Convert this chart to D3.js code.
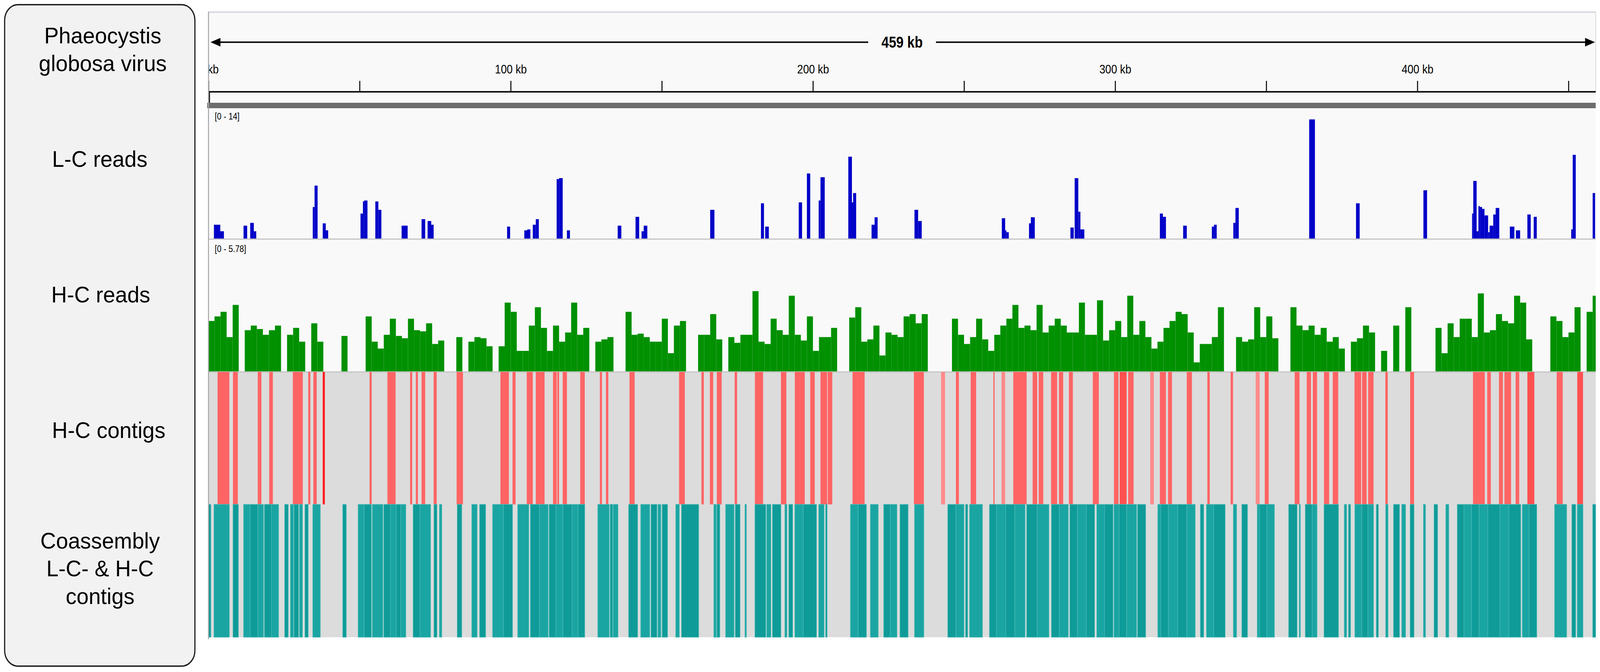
<!DOCTYPE html>
<html>
<head>
<meta charset="utf-8">
<script src="https://cdn.jsdelivr.net/npm/d3@7"></script>
<style>
  html, body { margin: 0; padding: 0; background: #fff; overflow: hidden; }
  #chart { width: 100vw; height: 100vh; }
  svg { display: block; width: 100%; height: 100%; }
  svg text { font-family: "Liberation Sans", Arial, sans-serif; }
</style>
</head>
<body>
<div id="chart"></div>
<script>
// genome size and ruler
const genomeKb = 459;
const rulerTicks = [0, 50, 100, 150, 200, 250, 300, 350, 400, 450];

// track names shown in the left panel
const trackNames = [
  ["Phaeocystis", "globosa virus"],
  ["L-C reads"],
  ["H-C reads"],
  ["H-C contigs"],
  ["Coassembly", "L-C- & H-C", "contigs"]
];

// data ranges of the two coverage tracks
const lcRange = [0, 14];
const hcRange = [0, 5.78];

// L-C reads coverage: [start kb, end kb, value]
const lcReads = [
  [1.8, 3.9, 1.5], [3.9, 5.1, 0.8], [11.6, 12.8, 1.4], [13.8, 15.0, 1.7], [15.0, 15.8, 0.8],
  [34.5, 35.1, 3.4], [35.1, 36.1, 5.7], [37.8, 38.8, 1.65], [38.8, 39.6, 0.9],
  [50.3, 51.1, 2.7], [51.1, 51.5, 4.0], [51.5, 52.6, 4.1], [55.2, 56.2, 4.0], [56.2, 57.2, 3.1],
  [63.9, 65.9, 1.4], [70.5, 71.7, 2.1], [72.5, 73.7, 1.9], [73.7, 74.5, 1.5],
  [98.8, 99.8, 1.3], [104.5, 105.5, 0.9], [105.5, 106.5, 1.0], [107.3, 108.3, 1.5], [108.3, 109.3, 2.1],
  [115.2, 116.0, 6.4], [116.0, 117.2, 6.5], [118.6, 119.6, 0.9],
  [135.4, 136.6, 1.4], [141.3, 142.5, 2.35], [143.3, 144.0, 0.8], [144.0, 145.2, 1.4],
  [166.0, 167.4, 3.1], [182.8, 183.8, 3.8], [184.2, 185.4, 1.3],
  [195.3, 196.4, 3.9], [198.0, 199.1, 7.0], [201.9, 202.5, 4.1], [202.5, 203.9, 6.6],
  [211.7, 212.9, 8.8], [212.9, 213.3, 3.9], [213.3, 214.3, 4.9],
  [219.4, 220.4, 1.5], [220.4, 221.4, 2.3], [233.6, 234.8, 3.1], [234.8, 236.0, 1.9],
  [262.5, 263.6, 2.2], [263.6, 264.0, 0.9], [264.0, 264.8, 0.7],
  [271.5, 272.1, 1.65], [272.1, 273.4, 2.3],
  [285.2, 286.3, 1.2], [286.6, 287.8, 6.5], [287.8, 288.5, 2.9], [288.5, 289.8, 1.0],
  [314.8, 315.8, 2.7], [315.8, 316.8, 2.35], [322.5, 323.7, 1.4], [332.0, 332.7, 1.3], [332.7, 333.6, 1.5],
  [339.1, 339.8, 1.7], [339.8, 340.9, 3.3], [364.2, 366.1, 12.8], [379.7, 380.9, 3.8], [402.0, 403.2, 5.2],
  [418.1, 418.5, 2.7], [418.5, 419.6, 6.2], [419.6, 420.2, 0.8], [420.2, 420.7, 3.5], [420.7, 421.4, 3.4],
  [421.4, 422.2, 3.2], [422.2, 423.4, 2.5], [423.4, 423.9, 0.7], [423.9, 425.1, 1.4], [425.1, 425.9, 2.6],
  [425.9, 427.1, 3.3], [430.6, 432.1, 1.3], [432.6, 434.0, 0.9], [436.4, 437.5, 2.6], [438.5, 439.5, 2.35],
  [450.9, 451.4, 1.0], [451.4, 452.4, 9.0], [458.0, 458.8, 4.9]
];

// H-C reads coverage, mean per 2 kb window starting at 0 kb
const hcBinKb = 2;
const hcReads = [
  2.2, 2.4, 2.6, 1.5, 2.9, 0, 1.8, 2.0, 1.85, 1.6,
  1.8, 2.0, 0, 1.6, 1.9, 1.3, 0, 2.1, 1.3, 0,
  0, 0, 1.55, 0, 0, 0, 2.4, 1.3, 1.0, 1.6,
  2.3, 1.55, 1.45, 2.3, 1.8, 1.75, 2.1, 1.2, 1.35, 0,
  0, 1.5, 0, 1.3, 1.5, 1.45, 1.1, 0, 1.1, 3.0,
  2.6, 0.9, 0.9, 2.0, 2.8, 1.9, 0.9, 2.0, 1.3, 1.7,
  3.0, 1.6, 1.9, 0, 1.3, 1.4, 1.5, 0, 0, 2.6,
  1.6, 1.65, 1.5, 1.3, 1.3, 2.3, 0.8, 2.0, 2.2, 0,
  0, 1.6, 1.6, 2.5, 1.4, 0, 1.5, 1.25, 1.6, 1.6,
  3.5, 1.3, 1.2, 2.3, 1.8, 1.6, 3.3, 1.6, 1.35, 2.4,
  0.9, 1.5, 1.5, 1.9, 0, 0, 2.35, 2.8, 1.3, 1.4,
  2.0, 0.7, 1.7, 1.6, 1.5, 2.4, 2.5, 2.1, 2.5, 0,
  0, 0, 0, 2.3, 1.6, 1.2, 1.5, 2.3, 1.4, 0.9,
  1.6, 2.0, 2.3, 2.9, 1.9, 2.0, 1.8, 2.9, 1.7, 2.0,
  2.3, 2.0, 1.7, 1.7, 3.0, 1.6, 1.6, 3.1, 1.35, 1.8,
  2.2, 1.5, 3.3, 1.6, 2.2, 1.5, 1.0, 1.3, 1.9, 2.2,
  2.6, 2.5, 1.7, 0.4, 1.2, 1.2, 1.5, 2.8, 0, 0,
  1.5, 1.3, 1.4, 2.8, 1.5, 2.4, 1.45, 0, 0, 2.8,
  2.0, 1.8, 2.0, 1.6, 1.9, 1.3, 1.5, 1.0, 0, 1.3,
  1.45, 2.0, 1.7, 0, 0.9, 0, 2.0, 0, 2.8, 0,
  0, 0, 0, 1.9, 0.8, 2.1, 1.5, 2.3, 2.3, 1.5,
  3.4, 1.7, 1.8, 2.5, 2.2, 2.1, 3.3, 3.0, 1.4, 0,
  0, 0, 2.4, 2.2, 1.5, 1.7, 2.8, 0, 2.6, 3.3
];

// H-C contigs: [start kb, end kb, score]
const hcContigs = [
  [3.0, 6.9, 1], [8.1, 9.7, 1], [16.3, 17.5, 1], [20.1, 21.3, 1], [27.9, 31.2, 1], [33.0, 33.7, 1],
  [34.7, 35.8, 1], [37.8, 38.5, 3], [53.3, 54.0, 1], [59.2, 61.9, 1], [66.7, 67.4, 1], [68.6, 69.3, 1],
  [70.5, 71.7, 1], [74.5, 75.5, 1], [82.1, 84.2, 1], [96.6, 99.4, 1], [100.6, 101.6, 1], [105.3, 107.3, 1],
  [108.3, 111.2, 1], [114.0, 115.2, 1], [115.4, 116.0, 1], [117.2, 118.6, 1], [123.0, 124.5, 1],
  [129.5, 130.2, 1], [131.5, 132.3, 1], [139.3, 141.0, 1], [155.7, 157.6, 1], [163.1, 163.9, 1],
  [165.9, 167.0, 1], [168.2, 169.8, 1], [174.1, 174.9, 1], [180.8, 183.5, 1], [189.4, 191.2, 1],
  [194.0, 197.3, 1], [199.1, 200.6, 1], [202.5, 204.7, 1], [204.9, 206.4, 1], [213.1, 217.1, 1],
  [233.4, 236.7, 1], [242.4, 243.7, 0], [247.3, 248.3, 1], [252.2, 254.0, 1], [259.7, 260.1, 1],
  [262.4, 263.6, 0], [266.3, 270.7, 1], [272.7, 274.2, 1], [274.7, 276.2, 1], [278.8, 280.8, 1],
  [281.4, 282.8, 1], [284.7, 286.0, 1], [292.6, 294.6, 1], [299.6, 301.1, 1], [301.5, 303.8, 2],
  [304.3, 306.1, 1], [311.6, 312.8, 0], [314.8, 316.8, 1], [317.5, 318.8, 1], [323.7, 325.4, 1],
  [330.5, 331.3, 1], [338.2, 339.0, 1], [346.5, 347.8, 0], [349.5, 350.8, 1], [359.4, 361.0, 1],
  [363.4, 364.8, 1], [365.4, 366.8, 1], [369.1, 370.8, 1], [372.0, 373.8, 1], [379.2, 381.4, 1],
  [381.7, 383.2, 1], [383.7, 385.5, 1], [389.4, 390.2, 1], [397.6, 398.9, 1], [418.4, 422.3, 1],
  [423.1, 424.3, 1], [427.0, 428.3, 1], [428.8, 431.0, 1], [432.5, 433.7, 1], [436.4, 438.7, 2],
  [446.1, 448.1, 1], [452.9, 454.8, 2]
];

// coassembly contigs: [start kb, end kb]
const coContigs = [
  [0.0, 0.8], [1.8, 6.9], [8.1, 9.9], [11.6, 13.8], [13.8, 16.3], [16.3, 18.2], [18.5, 20.8],
  [20.8, 23.2], [25.2, 26.4], [27.1, 28.1], [28.3, 29.8], [30.1, 31.1], [31.9, 33.0], [34.5, 37.0],
  [44.4, 45.6], [49.5, 51.5], [51.5, 53.9], [54.2, 57.7], [58.0, 60.2], [60.2, 62.1], [62.1, 63.6],
  [63.6, 65.3], [67.7, 70.0], [70.0, 73.5], [74.6, 75.6], [76.4, 77.2], [82.3, 83.8], [87.1, 88.9],
  [89.7, 91.7], [94.0, 97.6], [97.6, 100.6], [102.3, 106.0], [106.5, 109.5], [109.5, 112.4],
  [112.7, 114.9], [114.9, 117.3], [117.3, 120.3], [120.3, 122.3], [122.3, 124.5],
  [128.8, 132.6], [132.9, 133.7], [133.9, 135.5], [139.0, 142.0], [143.0, 146.0], [146.4, 148.4],
  [148.7, 149.7], [150.1, 151.9], [154.6, 155.8], [156.5, 162.2], [167.2, 168.0], [168.2, 169.2],
  [171.1, 173.9], [174.3, 175.9], [177.5, 178.0], [180.8, 184.4], [184.7, 186.1], [186.6, 189.4],
  [190.7, 191.4], [192.0, 193.3], [194.0, 196.8], [196.8, 201.2], [201.9, 203.7], [204.2, 204.7],
  [212.4, 215.0], [215.0, 217.7], [219.0, 221.6], [223.4, 225.6], [225.6, 227.8], [228.8, 231.5],
  [233.6, 236.7], [244.6, 247.3], [247.3, 250.0], [250.5, 251.2], [251.8, 256.1],
  [258.4, 260.7], [260.7, 263.8], [263.8, 266.8], [266.8, 270.2], [270.7, 274.2], [274.2, 278.1],
  [278.9, 281.5], [281.5, 284.5], [285.0, 287.5], [287.5, 290.5], [290.5, 293.2], [293.9, 296.5],
  [296.5, 299.3], [299.6, 301.3], [301.3, 303.8], [303.8, 307.1], [307.4, 310.1],
  [314.1, 315.1], [315.1, 317.6], [317.6, 320.7], [320.7, 323.7], [323.7, 326.5], [328.2, 329.3],
  [330.2, 332.6], [332.6, 336.4], [339.1, 340.2], [341.9, 343.8], [347.0, 347.8], [347.8, 350.2],
  [350.2, 352.7], [357.4, 360.2], [360.9, 361.3], [362.9, 365.2], [365.2, 366.8], [369.1, 373.9],
  [375.8, 376.6], [377.2, 377.9], [379.3, 381.6], [381.6, 383.6], [383.6, 385.5], [386.4, 387.1],
  [389.5, 390.3], [392.1, 394.1], [394.8, 396.1], [397.6, 398.9], [402.0, 402.7], [405.5, 406.7],
  [409.4, 410.4], [413.2, 415.4], [415.4, 417.9], [417.9, 420.4], [420.4, 423.3], [423.3, 427.3],
  [427.3, 430.3], [430.3, 434.2], [434.7, 437.0], [437.0, 439.5], [445.4, 449.4], [451.1, 452.4],
  [452.9, 454.8], [458.0, 459.0]
];

const W = 4827, H = 1720;
const left = 629, right = 4814;

// drawn in a fixed 4827 x 1720 coordinate space, scaled to fill the window
const svg = d3.select("#chart").append("svg")
  .attr("viewBox", `0 0 ${W} ${H}`)
  .attr("preserveAspectRatio", "none");

svg.append("rect").attr("width", W).attr("height", H).attr("fill", "#fff");

// left label panel
svg.append("rect")
  .attr("x", 14).attr("y", 12)
  .attr("width", 574).attr("height", 1693)
  .attr("rx", 40).attr("ry", 40)
  .attr("fill", "#f2f2f2")
  .attr("stroke", "#1a1a1a")
  .attr("stroke-width", 3.5);

const labelPos = [
  { cx: 310, ys: [111, 182] },
  { cx: 301, ys: [427] },
  { cx: 304, ys: [774] },
  { cx: 328, ys: [1121] },
  { cx: 302, ys: [1404, 1475, 1546] }
];
trackNames.forEach((lines, i) => {
  lines.forEach((t, j) => {
    svg.append("text")
      .attr("transform", `translate(${labelPos[i].cx},${labelPos[i].ys[j]}) scale(1.15,1)`)
      .attr("text-anchor", "middle")
      .attr("font-size", 57)
      .attr("fill", "#000")
      .text(t);
  });
});

// genome coordinate scale
const x = d3.scaleLinear().domain([0, genomeKb]).range([left, right]);

// ruler panel
svg.append("rect")
  .attr("x", left).attr("y", 30)
  .attr("width", right - left).attr("height", 233)
  .attr("fill", "#f9f9f9");
svg.append("line")
  .attr("x1", left).attr("x2", right).attr("y1", 31).attr("y2", 31)
  .attr("stroke", "#cdcdd8").attr("stroke-width", 3);
svg.append("line")
  .attr("x1", right).attr("x2", right).attr("y1", 30).attr("y2", 235)
  .attr("stroke", "#d2d2da").attr("stroke-width", 2);

// clip for the ruler labels (axis group is shifted down to y = 235)
svg.append("defs").append("clipPath").attr("id", "rulerClip")
  .append("rect").attr("x", left).attr("y", -235).attr("width", right - left).attr("height", 240);

// span arrow with total length
const spanY = 108;
const mid = (x(0) + x(genomeKb)) / 2;
const spanLabel = svg.append("text")
  .attr("x", mid)
  .attr("y", spanY + 14)
  .attr("text-anchor", "middle")
  .attr("font-size", 40)
  .attr("font-weight", "bold")
  .text(genomeKb + " kb");
const half = spanLabel.node().getBBox().width / 2 + 40;
svg.append("line")
  .attr("x1", x(0) + 20).attr("x2", mid - half)
  .attr("y1", spanY).attr("y2", spanY)
  .attr("stroke", "#111").attr("stroke-width", 4);
svg.append("line")
  .attr("x1", mid + half).attr("x2", x(genomeKb) - 20)
  .attr("y1", spanY).attr("y2", spanY)
  .attr("stroke", "#111").attr("stroke-width", 4);
svg.append("path")
  .attr("d", `M${x(0) + 6},${spanY} L${x(0) + 36},${spanY - 11} L${x(0) + 36},${spanY + 11} Z`)
  .attr("fill", "#000");
svg.append("path")
  .attr("d", `M${x(genomeKb) - 2},${spanY} L${x(genomeKb) - 32},${spanY - 11} L${x(genomeKb) - 32},${spanY + 11} Z`)
  .attr("fill", "#000");

// ruler ticks
const axisG = svg.append("g")
  .attr("transform", "translate(0,235)")
  .attr("clip-path", "url(#rulerClip)")
  .call(d3.axisTop(x)
    .tickValues(rulerTicks)
    .tickSize(28)
    .tickPadding(19)
    .tickFormat(d => d % 100 === 0 ? d + " kb" : ""));
axisG.select(".domain").remove();
axisG.selectAll(".tick line").attr("stroke", "#000").attr("stroke-width", 3);
axisG.selectAll(".tick text")
  .attr("font-size", 32)
  .attr("font-family", "\"Liberation Sans\", Arial, sans-serif")
  .attr("fill", "#000");

svg.append("line")
  .attr("x1", left).attr("x2", right).attr("y1", 235).attr("y2", 235)
  .attr("stroke", "#111").attr("stroke-width", 4);
svg.append("line")
  .attr("x1", left + 3).attr("x2", left + 3).attr("y1", 235).attr("y2", 263)
  .attr("stroke", "#111").attr("stroke-width", 3);

// gray divider under the ruler
svg.append("rect")
  .attr("x", left - 4).attr("y", 263)
  .attr("width", right - left + 4).attr("height", 14)
  .attr("fill", "#6d6d6d");

// track backgrounds
svg.append("rect")
  .attr("x", left).attr("y", 277)
  .attr("width", right - left).attr("height", 675)
  .attr("fill", "#f9f9f9");
svg.append("rect")
  .attr("x", left).attr("y", 952)
  .attr("width", right - left).attr("height", 679)
  .attr("fill", "#dcdcdc");

// L-C reads
const lcY = d3.scaleLinear().domain(lcRange).range([611, 277]);
svg.append("g").selectAll("rect")
  .data(lcReads)
  .join("rect")
  .attr("x", d => x(d[0]))
  .attr("width", d => x(d[1]) - x(d[0]))
  .attr("y", d => lcY(d[2]))
  .attr("height", d => lcY(0) - lcY(d[2]))
  .attr("fill", "#0000c8");

// H-C reads
const hcY = d3.scaleLinear().domain(hcRange).range([951, 611]);
svg.append("g").selectAll("rect")
  .data(hcReads.map((v, i) => ({ s: i * hcBinKb, e: Math.min((i + 1) * hcBinKb, genomeKb), v })).filter(d => d.v > 0))
  .join("rect")
  .attr("x", d => x(d.s))
  .attr("width", d => x(d.e) - x(d.s))
  .attr("y", d => hcY(d.v))
  .attr("height", d => hcY(0) - hcY(d.v))
  .attr("fill", "#009000");

// track separators
[612, 952].forEach(yy => {
  svg.append("line")
    .attr("x1", left).attr("x2", right).attr("y1", yy).attr("y2", yy)
    .attr("stroke", "#c4c4c4").attr("stroke-width", 3);
});

// data range labels
svg.append("text").attr("x", 648).attr("y", 306).attr("font-size", 24).text("[0 - " + lcRange[1] + "]");
svg.append("text").attr("x", 648).attr("y", 645).attr("font-size", 24).text("[0 - " + hcRange[1] + "]");

// H-C contigs
const redShade = d3.scaleOrdinal().domain([0, 1, 2, 3]).range(["#ff8a8a", "#ff6464", "#ff5050", "#ff1a1a"]);
svg.append("g").selectAll("rect")
  .data(hcContigs)
  .join("rect")
  .attr("x", d => x(d[0]))
  .attr("width", d => Math.max(2, x(d[1]) - x(d[0])))
  .attr("y", 952)
  .attr("height", 339)
  .attr("fill", d => redShade(d[2]));

// coassembly contigs (neighbouring contigs alternate shade slightly)
svg.append("g").selectAll("rect")
  .data(coContigs)
  .join("rect")
  .attr("x", d => x(d[0]))
  .attr("width", d => x(d[1]) - x(d[0]))
  .attr("y", 1291)
  .attr("height", 340)
  .attr("fill", (d, i) => i % 2 ? "#1aa5a2" : "#0f9b98")
  .attr("stroke", "#4dbab6")
  .attr("stroke-width", 1.5);

// left edge of the data panel
svg.append("line")
  .attr("x1", left).attr("x2", left).attr("y1", 30).attr("y2", 1636)
  .attr("stroke", "#a6a6a6").attr("stroke-width", 3);
</script>
</body>
</html>
